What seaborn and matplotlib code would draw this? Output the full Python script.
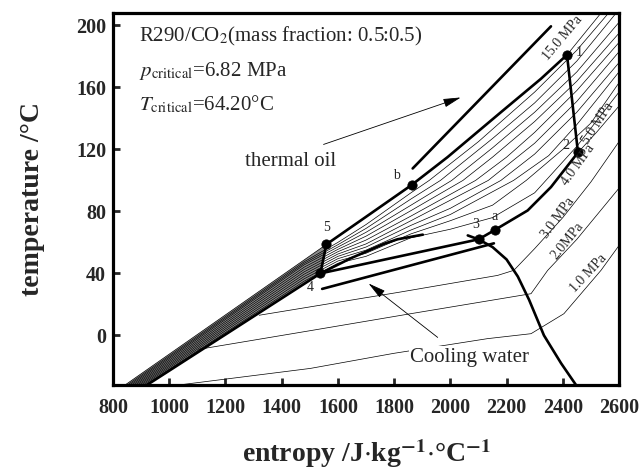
import matplotlib
matplotlib.use("Agg")
import matplotlib.pyplot as plt
import seaborn as sns
import pandas as pd

# ---------------- data (entropy J/kg/C , temperature C) ----------------
x_ticks = [800, 1000, 1200, 1400, 1600, 1800, 2000, 2200, 2400, 2600]
y_ticks = [0, 40, 80, 120, 160, 200]

# gray liquid band: 15 MPa edge (upper) and bubble line (lower)
band_s = [843, 1559]
band_upper_T = [-32, 58.7]
band_lower_s = [921, 1538]
band_lower_T = [-32, 40]

# supercritical isobars (thin), MPa -> (s, T)
iso_5_s = [914, 1480, 1600, 1700, 1860, 2000, 2150, 2300, 2450, 2600]
iso_5_T = [-32, 35, 46.5, 51, 63, 68.5, 76, 92, 122, 157]
iso_6_s = [907, 1480, 1600, 1700, 1860, 2000, 2150, 2270, 2400, 2500, 2600]
iso_6_T = [-32, 36.5, 48, 53, 65.5, 74, 84, 100, 120, 137, 163]
iso_7_s = [900, 1480, 1600, 1700, 1860, 2000, 2225, 2350, 2450, 2600]
iso_7_T = [-32, 38, 49.5, 55, 68, 78, 100, 116, 136, 170]
iso_8_s = [893, 1480, 1600, 1700, 1860, 2000, 2180, 2300, 2450, 2600]
iso_8_T = [-32, 39.5, 51, 57, 71, 82, 100, 117, 144, 176]
iso_9_s = [886, 1480, 1600, 1700, 1860, 2135, 2300, 2450, 2600]
iso_9_T = [-32, 41, 52.5, 59, 74, 100, 124, 151, 183]
iso_10_s = [879, 1480, 1600, 1700, 1860, 2090, 2200, 2300, 2450, 2600]
iso_10_T = [-32, 42.5, 54, 61.5, 77, 100, 115, 131, 158, 189]
iso_11_s = [872, 1480, 1600, 1700, 1860, 2045, 2150, 2300, 2450, 2600]
iso_11_T = [-32, 44, 55.5, 64, 80.5, 100, 115, 138, 164, 195]
iso_12_s = [865, 1480, 1600, 1700, 1860, 2005, 2150, 2300, 2450, 2600]
iso_12_T = [-32, 45.5, 57, 66.5, 84, 100, 121, 144, 170, 202]
iso_13_s = [858, 1480, 1600, 1700, 1860, 1965, 2150, 2300, 2450, 2590]
iso_13_T = [-32, 46.5, 58.5, 69, 88, 100, 127, 150, 177, 208]
iso_14_s = [851, 1480, 1600, 1700, 1860, 1925, 2100, 2300, 2450, 2563]
iso_14_T = [-32, 47.5, 60, 71.5, 92, 100, 125, 157, 184, 208]
iso_15_ext_s = [2415, 2536]
iso_15_ext_T = [181, 208]
iso_4_ext_s = [2454, 2520, 2600]
iso_4_ext_T = [118, 131, 148]

# subcritical isobars (thin)
iso_1_s = [990, 1502, 1798, 2132, 2287, 2404, 2536, 2600]
iso_1_T = [-33, -21.3, -11.6, -2.1, 1.1, 14, 42, 58]
iso_2_s = [1105, 1500, 1859, 2287, 2346, 2450, 2600]
iso_2_T = [-9, 3, 14, 26.9, 41.9, 62, 95]
iso_3_s = [1320, 1823, 2168, 2226, 2300, 2400, 2500, 2600]
iso_3_T = [13, 28, 38.7, 42, 56, 76, 99, 125]

# saturation lines (thick)
bubble_s = [921, 1538, 1645, 1763, 1812, 1902]
bubble_T = [-32, 40, 49.7, 59, 62, 65]
dew_s = [2062, 2101, 2150, 2200, 2240, 2280, 2333, 2394, 2447]
dew_T = [64.5, 61.9, 57, 49, 38, 23, 0, -18, -32]

# cycle 4-5-b-1-2-a-3-4
heat_s = [1538, 1559, 1700, 1862, 1990, 2180, 2322, 2415]
heat_T = [40, 58.7, 76.5, 97, 115, 144, 165.5, 181]
expand_s = [2415, 2454]
expand_T = [181, 118]
cool_s = [2454, 2358, 2275, 2158, 2101, 1538]
cool_T = [118, 95.7, 80.6, 68, 62, 40]

# heat source / sink lines
oil_s = [1866, 2358]
oil_T = [107.7, 199.4]
water_s = [1544, 2155]
water_T = [30, 59.4]

# state points
pt_names = ["1", "2", "a", "3", "4", "5", "b"]
pt_s = [2415, 2454, 2158, 2101, 1538, 1559, 1862]
pt_T = [181, 118, 68, 62, 40, 58.7, 97]

# isobar labels
iso_lab = ["15.0 MPa", "5.0 MPa", "4.0 MPa", "3.0 MPa", "2.0MPa", "1.0 MPa"]
iso_lab_s = [2401, 2525, 2454, 2383, 2415, 2493]
iso_lab_T = [191.6, 136.8, 109.7, 75.5, 61.3, 40]
iso_lab_rot = [50, 57, 54, 54, 51, 47]

# ---------------- style ----------------
sns.set_theme(style="white")
plt.rcParams["font.family"] = ["Liberation Serif", "DejaVu Serif"]
plt.rcParams["mathtext.fontset"] = "stix"

fig = plt.figure(figsize=(6.43, 4.69), dpi=100)
ax = fig.add_axes([0.1757, 0.1791, 0.7870, 0.7932])


def line(s, T, lw, z=2):
    df = pd.DataFrame({"s": s, "T": T})
    sns.lineplot(data=df, x="s", y="T", sort=False, estimator=None,
                 color="black", lw=lw, ax=ax, zorder=z)


# band
ax.fill([band_s[0], band_s[1], band_lower_s[1], band_lower_s[0]],
        [band_upper_T[0], band_upper_T[1], band_lower_T[1], band_lower_T[0]],
        color="0.55", lw=0, zorder=1)

thin = 0.5
for s, T in [(iso_5_s, iso_5_T), (iso_6_s, iso_6_T), (iso_7_s, iso_7_T),
             (iso_8_s, iso_8_T), (iso_9_s, iso_9_T), (iso_10_s, iso_10_T),
             (iso_11_s, iso_11_T), (iso_12_s, iso_12_T), (iso_13_s, iso_13_T),
             (iso_14_s, iso_14_T), (iso_15_ext_s, iso_15_ext_T),
             (iso_4_ext_s, iso_4_ext_T), (iso_1_s, iso_1_T),
             (iso_2_s, iso_2_T), (iso_3_s, iso_3_T)]:
    line(s, T, thin, 2)

# 15 MPa liquid edge of the band (thin)
line(band_s, band_upper_T, thin, 2)

thick = 1.9
for s, T in [(bubble_s, bubble_T), (dew_s, dew_T), (heat_s, heat_T),
             (expand_s, expand_T), (cool_s, cool_T), (oil_s, oil_T),
             (water_s, water_T)]:
    line(s, T, thick, 3)

sns.scatterplot(x=pt_s, y=pt_T, color="black", s=45, edgecolor="black",
                zorder=5, ax=ax, legend=False)

# point labels
pl_off = {"1": (9, 2), "2": (-9, 5), "a": (0, 10), "3": (-2, 11),
          "4": (-7, -10), "5": (0, 12), "b": (-11, 7)}
for n, s, T in zip(pt_names, pt_s, pt_T):
    dx, dy = pl_off[n]
    ax.annotate(n, (s, T), xytext=(dx, dy), textcoords="offset points",
                fontsize=10, ha="center", va="center", zorder=6)

for t, s, T, r in zip(iso_lab, iso_lab_s, iso_lab_T, iso_lab_rot):
    ax.text(s, T, t, fontsize=10, rotation=r, ha="center", va="center",
            rotation_mode="anchor", zorder=6)

# arrows
ax.annotate("", xy=(2037, 153.5), xytext=(1549, 123.2),
            arrowprops=dict(arrowstyle="-|>,head_length=0.9,head_width=0.22",
                            lw=0.6, color="black", shrinkA=0, shrinkB=0))
ax.annotate("", xy=(1709, 33.5), xytext=(1955, -1.3),
            arrowprops=dict(arrowstyle="-|>,head_length=0.9,head_width=0.22",
                            lw=0.6, color="black", shrinkA=0, shrinkB=0))
ax.text(1431, 112.3, "thermal oil", fontsize=15, ha="center", va="center")
ax.text(2069, -14.2, "Cooling water", fontsize=15, ha="center", va="center",
        bbox=dict(facecolor="white", edgecolor="none", pad=1), zorder=6)

ax.text(0.051, 0.937, r"R290/CO$_2$(mass fraction: 0.5:0.5)", fontsize=15,
        transform=ax.transAxes, ha="left", va="center")
ax.text(0.051, 0.845, r"$p_{\mathrm{critical}}$=6.82 MPa", fontsize=15,
        transform=ax.transAxes, ha="left", va="center")
ax.text(0.051, 0.755, r"$T_{\mathrm{critical}}$=64.20°C", fontsize=15,
        transform=ax.transAxes, ha="left", va="center")

ax.set_xlim(800, 2600)
ax.set_ylim(-32, 208)
ax.set_xticks(x_ticks)
ax.set_yticks(y_ticks)
ax.tick_params(direction="in", length=5, width=2, top=False, right=False,
               labelsize=14.5, pad=5, bottom=True, left=True)
ax.tick_params(axis="x", pad=9)
for lab in ax.get_xticklabels() + ax.get_yticklabels():
    lab.set_fontweight("bold")
for sp in ax.spines.values():
    sp.set_linewidth(2.3)
    sp.set_color("black")
ax.set_xlabel(r"entropy /J$\cdot$kg$^{\mathbf{-1}}$$\cdot$°C$^{\mathbf{-1}}$",
              fontsize=20, fontweight="bold", labelpad=14)
ax.set_ylabel("temperature /°C", fontsize=20, fontweight="bold", labelpad=22)

fig.savefig("out.png", dpi=100)
